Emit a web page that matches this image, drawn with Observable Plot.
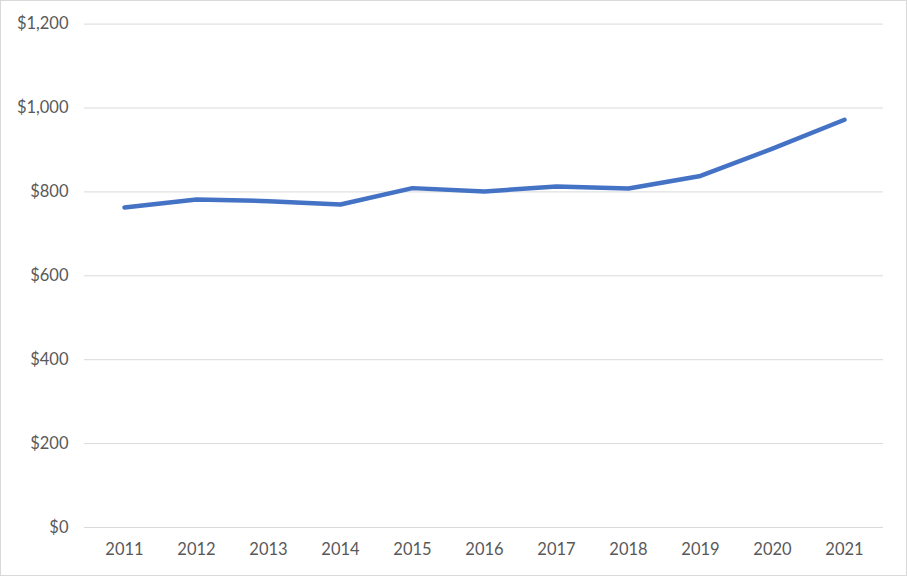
<!DOCTYPE html>
<html>
<head>
<meta charset="utf-8">
<script src="https://cdn.jsdelivr.net/npm/d3@7"></script>
<script src="https://cdn.jsdelivr.net/npm/@observablehq/plot@0.6"></script>
<style>
  html, body { margin: 0; padding: 0; background: #fff; }
  #chart { width: 905px; height: 574px; border: 1px solid #d9d9d9; }
  #chart svg { display: block; }
</style>
</head>
<body>
<div id="chart"></div>
<script>
const years = ["2011","2012","2013","2014","2015","2016","2017","2018","2019","2020","2021"];
const values = [763, 782, 778, 770, 809, 801, 813, 808, 838, 903, 972];
const yTicks = [0, 200, 400, 600, 800, 1000, 1200];

const data = years.map((y, i) => ({year: y, value: values[i]}));
const fmt = d3.format("$,");

const chart = Plot.plot({
  width: 905,
  height: 574,
  marginLeft: 83,
  marginRight: 23,
  marginTop: 22.6,
  marginBottom: 48,
  style: {fontFamily: "Lato, 'Open Sans', sans-serif", fontSize: "16.5px", color: "#595959", background: "#fff"},
  x: {type: "point", domain: years, padding: 0.5, label: null},
  y: {domain: [0, 1200], label: null},
  marks: [
    Plot.gridY(yTicks, {stroke: "#d9d9d9", strokeOpacity: 1, strokeWidth: 1}),
    Plot.axisY(yTicks, {tickSize: 0, tickPadding: 16, tickFormat: fmt, label: null, fill: "#595959"}),
    Plot.axisX(years, {tickSize: 0, tickPadding: 16, label: null, fill: "#595959"}),
    Plot.line(data, {x: "year", y: "value", stroke: "#4472C4", strokeWidth: 4.5, strokeLinejoin: "round", strokeLinecap: "round"})
  ]
});
document.getElementById("chart").appendChild(chart);
</script>
</body>
</html>
